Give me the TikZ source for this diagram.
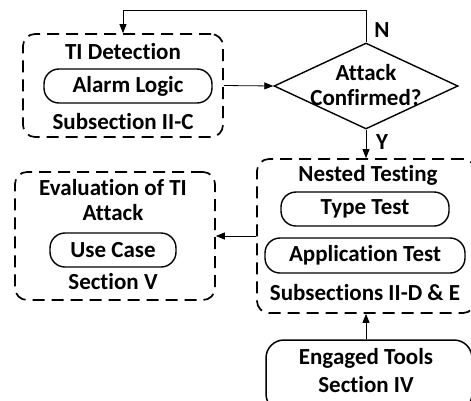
\documentclass[tikz,border=0pt]{standalone}
\usepackage{fontspec}
\setmainfont[Ligatures=NoCommon]{Carlito}
\usetikzlibrary{shapes.geometric, arrows.meta, positioning}

\tikzset{
  group/.style={draw, line width=1.7pt, dash pattern=on 12pt off 7pt, rounded corners=12pt, inner sep=0pt},
  pill/.style={draw, line width=1.4pt, rounded corners=15pt, inner sep=0pt},
  lbl/.style={font=\fontsize{23}{25}\selectfont\bfseries, inner sep=0pt, align=center},
  conn/.style={line width=0.8pt, -{Triangle[length=9pt, width=7pt]}}
}

\begin{document}
\begin{tikzpicture}[x=1pt, y=-1pt]
\useasboundingbox (0,0) rectangle (471,400);
\clip (0,0) rectangle (471,400);

% TI detection
\node[group, minimum width=200pt, minimum height=103pt] (ti) at (123,85.5) {};
\node[lbl] (tititle) at (123,52) {TI Detection};
\node[pill, minimum width=168pt, minimum height=34pt] (alarm) at (128,86) {};
\node[lbl] at (alarm) {Alarm Logic};
\node[lbl] (tisec) at (123,122) {Subsection II-C};

% decision
\node[diamond, draw, line width=1.4pt, minimum width=184pt, minimum height=86pt, inner sep=0pt] (dec) at (366,86) {};
\node[lbl] (dectext) at (366,85) {Attack\\Confirmed?};

% nested testing
\node[group, minimum width=218pt, minimum height=154pt] (nest) at (366,236) {};
\node[lbl] (nesttitle) at (368,175) {Nested Testing};
\node[pill, minimum width=168pt, minimum height=34pt] (type) at (365,209) {};
\node[lbl] at (type) {Type Test};
\node[pill, minimum width=200pt, minimum height=35pt] (app) at (365,255.5) {};
\node[lbl] at (app) {Application Test};
\node[lbl] (nestsec) at (365,293) {Subsections II-D \& E};

% evaluation
\node[group, minimum width=200pt, minimum height=128pt] (eval) at (115,236) {};
\node[lbl] (evaltitle) at (113,200) {Evaluation of TI\\Attack};
\node[pill, minimum width=126pt, minimum height=34pt] (usecase) at (113,250) {};
\node[lbl] at (usecase) {Use Case};
\node[lbl] (evalsec) at (113,282) {Section V};

% engaged tools
\node[pill, line width=1.5pt, minimum width=206pt, minimum height=72pt, rounded corners=18pt] (tools) at (369,376) {};
\node[lbl] at (366,371) {Engaged Tools\\[3pt]Section IV};

% connectors
\coordinate (loop) at (366,10);
\draw[conn] (ti.east) -- (dec.west);
\draw[conn] (dec.north) -- (loop) -| (ti.north);
\node[lbl] at (382,30) {N};
\draw[conn] (dec.south) -- (nest.north);
\node[lbl] at (382,142) {Y};
\draw[conn] (tools.north -| nest.south) -- (nest.south);
\draw[conn] (nest.west) -- (eval.east);
\end{tikzpicture}
\end{document}
